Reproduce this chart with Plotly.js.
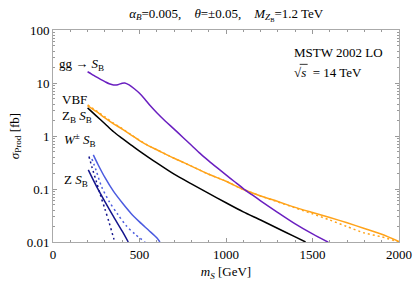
<!DOCTYPE html>
<html><head><meta charset="utf-8">
<script src="https://cdn.plot.ly/plotly-3.0.1.min.js"></script>
<style>html,body{margin:0;padding:0;background:#fff}#chart{width:415px;height:290px}</style>
</head><body><div id="chart"></div>
<script>
// gg -> S_B (purple)
const ggMass = [200,225,250,275,300,325,350,375,400,415,440,470,500,530,560,600,650,700,750,800,850,900,950,1000,1050,1100,1150,1200,1300,1400,1500,1591];
const ggXs   = [16.3,14.6,13.0,11.7,10.6,9.7,9.2,9.3,9.9,10.0,9.2,7.8,6.4,5.0,3.8,2.75,1.9,1.35,0.95,0.67,0.47,0.34,0.25,0.185,0.137,0.102,0.078,0.06,0.036,0.022,0.0142,0.0099];
// VBF (orange) solid and dashed
const vbfMass = [200,250,300,350,400,450,500,550,600,700,800,900,1000,1100,1200,1300,1400,1500,1600,1700,1800,1900,2000];
const vbfXs   = [3.7,2.9,2.2,1.7,1.35,1.05,0.82,0.66,0.55,0.38,0.27,0.19,0.14,0.098,0.074,0.058,0.045,0.036,0.029,0.023,0.018,0.014,0.0102];
const vbfXsAlt= [3.85,3.0,2.3,1.75,1.38,1.06,0.83,0.66,0.55,0.38,0.27,0.19,0.14,0.098,0.074,0.057,0.044,0.034,0.026,0.0195,0.0148,0.0125,0.0100];
// Z_B S_B (black)
const zbMass = [200,250,300,350,400,450,500,550,600,700,800,900,1000,1100,1200,1300,1400,1460];
const zbXs   = [3.4,2.4,1.7,1.2,0.9,0.68,0.52,0.4,0.31,0.19,0.125,0.083,0.055,0.037,0.026,0.018,0.0125,0.01];
// W± S_B (blue) solid and dashed
const wMass  = [233,260,300,350,400,450,500,550,600,618];
const wXs    = [0.44,0.29,0.165,0.09,0.055,0.035,0.024,0.017,0.012,0.01];
const wMassAlt = [225,250,281,325,375,425,475,532];
const wXsAlt   = [0.37,0.22,0.11,0.058,0.033,0.02,0.014,0.01];
// Z S_B (navy) solid and dashed
const zMass  = [204,250,300,350,400,435];
const zXs    = [0.23,0.115,0.058,0.03,0.016,0.01];
const zMassAlt = [208,225,250,275,300,325,350,358];
const zXsAlt   = [0.41,0.26,0.14,0.075,0.042,0.023,0.012,0.01];

const yTicks = [0.01,0.1,1,10,100];
const yTickText = ['0.01','0.1','1','10','100'];
const xTicks = [0,500,1000,1500,2000];
const yMinor = [];
for (let d=-2; d<2; d++) for (let k=2; k<=9; k++) yMinor.push(k*Math.pow(10,d));

const PURPLE='#6a1fc0', ORANGE='#ffa31a', BLUE='#4b5be0', NAVY='#14148c';
function tr(x,y,color,dash){return {x:x,y:y,mode:'lines',type:'scatter',line:{color:color,width:1.5,dash:dash||'solid',shape:'spline',smoothing:0.8},hoverinfo:'skip'};}
const data = [
  tr(zMassAlt,zXsAlt,NAVY,'2px,3px'),
  tr(wMassAlt,wXsAlt,BLUE,'2px,3px'),
  tr(zMass,zXs,NAVY),
  tr(wMass,wXs,BLUE),
  tr(zbMass,zbXs,'#000000'),
  tr(vbfMass,vbfXsAlt,ORANGE,'2px,3px'),
  tr(vbfMass,vbfXs,ORANGE),
  tr(ggMass,ggXs,PURPLE)
];
const F = '"Liberation Serif", "Times New Roman", serif';
function ann(x,y,text,xa){return {xref:'paper',yref:'paper',x:x,y:y,xanchor:xa||'left',yanchor:'middle',text:text,showarrow:false,font:{family:F,size:13,color:'#000'}};}
const layout = {
  width:415,height:290,
  margin:{l:53,r:16,t:30,b:48},
  paper_bgcolor:'#fff',plot_bgcolor:'#fff',
  showlegend:false,
  font:{family:F,size:12,color:'#000'},
  title:{text:'<i>α</i><sub><i>B</i></sub>=0.005,\u00a0\u00a0\u00a0\u00a0<i>θ</i>=±0.05,\u00a0\u00a0\u00a0\u00a0<i>M</i><sub><i>Z</i><sub>B</sub></sub>=1.2 TeV',
         x:0.545,xanchor:'center',y:0.955,yanchor:'middle',font:{family:F,size:13,color:'#000'}},
  xaxis:{range:[0,2000],tickmode:'array',tickvals:xTicks,ticktext:xTicks.map(String),
         ticks:'inside',ticklen:4,tickcolor:'#999',showline:true,linecolor:'#aaa',linewidth:1,mirror:'ticks',
         showgrid:false,zeroline:false,tickfont:{family:F,size:13},
         minor:{dtick:100,ticks:'inside',ticklen:2,tickcolor:'#999',showgrid:false},
         title:{text:'<i>m</i><sub><i>S</i></sub> [GeV]',font:{family:F,size:13},standoff:6}},
  yaxis:{type:'log',range:[-2,2],tickmode:'array',tickvals:yTicks,ticktext:yTickText,
         ticks:'inside',ticklen:4,tickcolor:'#999',showline:true,linecolor:'#aaa',linewidth:1,mirror:'ticks',
         showgrid:false,zeroline:false,tickfont:{family:F,size:13},
         minor:{tickmode:'array',tickvals:yMinor,ticks:'inside',ticklen:2,tickcolor:'#999',showgrid:false},
         title:{text:'<i>σ</i><sub>Prod</sub> [fb]',font:{family:F,size:13},standoff:4}},
  shapes:[
    {type:'line',xref:'paper',yref:'paper',x0:0.713,x1:0.736,y0:0.838,y1:0.838,line:{color:'#000',width:0.8}}
  ],
  annotations:[
    ann(0.013,0.835,'gg → <i>S</i><sub>B</sub>'),
    ann(0.02,0.67,'VBF'),
    ann(0.02,0.59,'Z<sub>B</sub> <i>S</i><sub>B</sub>'),
    ann(0.026,0.48,'<i>W</i><sup>±</sup> <i>S</i><sub>B</sub>'),
    ann(0.026,0.29,'Z <i>S</i><sub>B</sub>'),
    ann(0.692,0.896,'MSTW 2002 LO'),
    ann(0.692,0.80,'√<i>s</i>\u00a0 = 14 TeV')
  ]
};
Plotly.newPlot('chart',data,layout,{displayModeBar:false,staticPlot:true});
</script></body></html>
